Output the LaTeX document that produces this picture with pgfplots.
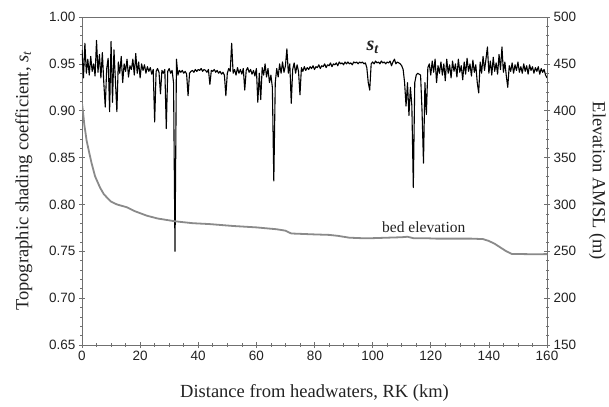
\documentclass[border=0pt]{standalone}
\usepackage{fontspec}
\setmainfont{Liberation Serif}
\setsansfont{Liberation Sans}
\usepackage{pgfplots}
\pgfplotsset{compat=1.18}
\definecolor{axgray}{HTML}{707070}
\definecolor{bedgray}{HTML}{8A8A8A}
\definecolor{txt}{HTML}{222222}

\begin{document}
\begin{tikzpicture}
\pgfplotsset{
  common/.style={
    width=465bp, height=328bp, scale only axis,
    xmin=0, xmax=160,
    tick align=center,
    major tick length=6bp, minor tick length=3bp,
    axis line style={axgray, line width=0.7bp},
    tick style={axgray, line width=0.6bp},
    tick label style={font=\fontsize{13.5bp}{16bp}\sffamily, text=txt},
    /pgf/number format/assume math mode=true,
    label style={font=\fontsize{18.5bp}{22bp}\selectfont, text=txt},
  }
}
\begin{axis}[
  common,
  ymin=0.65, ymax=1.00,
  xtick={0,20,...,160},
  ytick={0.65,0.70,0.75,0.80,0.85,0.90,0.95,1.00},
  minor x tick num=3, minor y tick num=4,
  tick pos=left,
  yticklabel style={/pgf/number format/.cd, fixed, fixed zerofill, precision=2},
  xlabel={Distance from headwaters, RK (km)},
  ylabel={Topographic shading coefficient, \textit{s}\textsubscript{\textit{t}}},
  xlabel style={at={(axis description cs:0.5,-0.146)}, anchor=center},
  ylabel style={at={(axis description cs:-0.125,0.5)}, anchor=center, rotate=0},
]
\addplot[black, line width=1.1bp, line join=round] coordinates {
(0,0.965) (0.5,0.935) (1,0.972) (1.5,0.940) (2,0.955) (2.5,0.938) (3,0.958) (3.5,0.942) (4,0.950) (4.5,0.937)
(5,0.975) (5.5,0.941) (6,0.960) (6.5,0.935) (7,0.962) (7.5,0.930) (8,0.904) (8.5,0.945) (9,0.956) (9.5,0.899)
(10,0.974) (10.5,0.909) (11,0.965) (11.5,0.932) (12,0.899) (12.5,0.952) (13,0.940) (13.5,0.958) (14,0.930) (14.5,0.950)
(15,0.942) (15.5,0.955) (16,0.936) (16.5,0.948) (17,0.944) (17.5,0.955) (18,0.938) (18.5,0.961) (19,0.940) (19.5,0.952)
(20,0.935) (20.5,0.950) (21,0.943) (21.5,0.949) (22,0.940) (22.5,0.947) (23,0.942) (23.5,0.946) (24,0.939) (24.5,0.944)
(25,0.888) (25.5,0.942) (26,0.945) (26.5,0.941) (27,0.918) (27.5,0.943) (28,0.940) (28.5,0.944) (29,0.881) (29.5,0.942)
(30,0.945) (30.5,0.940) (31,0.943) (31.5,0.930) (32,0.750) (32.5,0.955) (33,0.938) (33.5,0.943) (34,0.941) (34.5,0.943)
(35,0.940) (35.5,0.942) (36,0.939) (36.5,0.916) (37,0.940) (37.5,0.942) (38,0.943) (38.5,0.941) (39,0.944) (39.5,0.942)
(40,0.944) (40.5,0.943) (41,0.945) (41.5,0.942) (42,0.944) (42.5,0.943) (43,0.941) (43.5,0.944) (44,0.928) (44.5,0.943)
(45,0.942) (45.5,0.944) (46,0.941) (46.5,0.943) (47,0.940) (47.5,0.942) (48,0.939) (48.5,0.941) (49,0.938) (49.5,0.916)
(50,0.940) (50.5,0.945) (51,0.942) (51.5,0.972) (52,0.940) (52.5,0.944) (53,0.938) (53.5,0.946) (54,0.940) (54.5,0.944)
(55,0.939) (55.5,0.945) (56,0.922) (56.5,0.943) (57,0.946) (57.5,0.941) (58,0.944) (58.5,0.939) (59,0.943) (59.5,0.937)
(60,0.945) (60.5,0.909) (61,0.940) (61.5,0.912) (62,0.946) (62.5,0.938) (63,0.950) (63.5,0.936) (64,0.945) (64.5,0.930)
(65,0.938) (65.5,0.925) (66,0.825) (66.5,0.930) (67,0.945) (67.5,0.936) (68,0.950) (68.5,0.940) (69,0.952) (69.5,0.941)
(70,0.948) (70.5,0.966) (71,0.940) (71.5,0.950) (72,0.908) (72.5,0.944) (73,0.951) (73.5,0.940) (74,0.949) (74.5,0.942)
(75,0.917) (75.5,0.946) (76,0.942) (76.5,0.947) (77,0.943) (77.5,0.946) (78,0.944) (78.5,0.947) (79,0.945) (79.5,0.948)
(80,0.944) (80.5,0.947) (81,0.946) (81.5,0.949) (82,0.945) (82.5,0.948) (83,0.947) (83.5,0.950) (84,0.946) (84.5,0.949)
(85,0.948) (85.5,0.951) (86,0.947) (86.5,0.950) (87,0.949) (87.5,0.951) (88,0.948) (88.5,0.952) (89,0.950) (89.5,0.951)
(90,0.949) (90.5,0.952) (91,0.950) (91.5,0.952) (92,0.950) (92.5,0.951) (93,0.949) (93.5,0.952) (94,0.951) (94.5,0.952)
(95,0.950) (95.5,0.952) (96,0.951) (96.5,0.952) (97,0.950) (97.5,0.951) (98,0.946) (98.5,0.930) (99,0.922) (99.5,0.950)
(100,0.952) (100.5,0.950) (101,0.953) (101.5,0.951) (102,0.952) (102.5,0.950) (103,0.953) (103.5,0.951) (104,0.952) (104.5,0.950)
(105,0.952) (105.5,0.951) (106,0.953) (106.5,0.948) (107,0.952) (107.5,0.955) (108,0.950) (108.5,0.952) (109,0.951) (109.5,0.950)
(110,0.948) (110.5,0.944) (111,0.930) (111.5,0.905) (112,0.930) (112.5,0.895) (113,0.925) (113.5,0.905) (114,0.818) (114.5,0.930)
(115,0.938) (115.5,0.940) (116,0.939) (116.5,0.938) (117,0.900) (117.5,0.844) (118,0.930) (118.5,0.896) (119,0.946) (119.5,0.950)
(120,0.938) (120.5,0.953) (121,0.941) (121.5,0.955) (122,0.930) (122.5,0.948) (123,0.940) (123.5,0.952) (124,0.938) (124.5,0.950)
(125,0.932) (125.5,0.955) (126,0.940) (126.5,0.949) (127,0.935) (127.5,0.953) (128,0.942) (128.5,0.950) (129,0.936) (129.5,0.955)
(130,0.941) (130.5,0.948) (131,0.933) (131.5,0.952) (132,0.939) (132.5,0.956) (133,0.942) (133.5,0.950) (134,0.937) (134.5,0.954)
(135,0.941) (135.5,0.949) (136,0.930) (136.5,0.919) (137,0.952) (137.5,0.940) (138,0.958) (138.5,0.943) (139,0.955) (139.5,0.968)
(140,0.940) (140.5,0.953) (141,0.938) (141.5,0.957) (142,0.942) (142.5,0.951) (143,0.939) (143.5,0.960) (144,0.944) (144.5,0.968)
(145,0.941) (145.5,0.952) (146,0.937) (146.5,0.925) (147,0.948) (147.5,0.942) (148,0.951) (148.5,0.940) (149,0.949) (149.5,0.943)
(150,0.952) (150.5,0.941) (151,0.947) (151.5,0.940) (152,0.950) (152.5,0.942) (153,0.948) (153.5,0.939) (154,0.949) (154.5,0.943)
(155,0.947) (155.5,0.940) (156,0.946) (156.5,0.942) (157,0.947) (157.5,0.939) (158,0.945) (158.5,0.941) (159,0.944) (159.5,0.938)
(160,0.935)
};
\node[font=\fontsize{20bp}{22bp}\selectfont\bfseries\itshape, text=txt] at (axis cs:100,0.968) {s\textsubscript{t}};
\node[font=\fontsize{15.5bp}{18bp}\selectfont, text=txt] at (axis cs:117.6,0.776) {bed elevation};
\end{axis}
\begin{axis}[
  common,
  ymin=150, ymax=500,
  axis y line*=right, axis x line=none,
  ytick={150,200,...,500},
  minor y tick num=4,
  ylabel={Elevation AMSL (m)},
  ylabel style={at={(axis description cs:1.108,0.5)}, anchor=center, rotate=180},
]
\addplot[bedgray, line width=1.8bp] coordinates {
(0,408) (0.3,400) (0.8,385) (1.6,368) (2.5,355) (3.3,344) (4.5,330) (6.2,318) (7.5,311) (9,306)
(10,303) (12,300) (15.4,297) (18,293) (22.3,288) (26,285) (32,282) (38,280) (44,279) (52,277)
(60,275.5) (67,273.5) (70,272) (72,269) (80,268) (85,267.5) (88,266.5) (92,264.5) (96,264) (100,264)
(105,264.5) (110,265) (112,265.5) (114,264) (118,264) (122,263.5) (128,263.5) (134,263.5) (138,263) (140,261)
(142,258) (144,254) (146,250) (148,247) (152,247) (156,246.8) (160,247)
};
\end{axis}
\pgfresetboundingbox
\path (-82bp,-62bp) rectangle (527bp,345bp);
\end{tikzpicture}
\end{document}
